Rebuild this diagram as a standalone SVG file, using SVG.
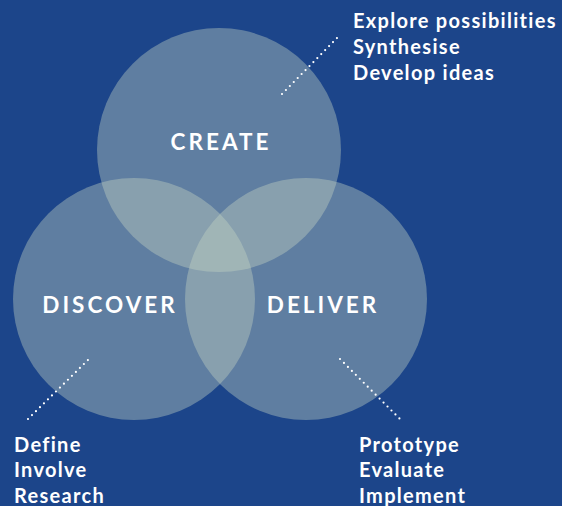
<svg xmlns="http://www.w3.org/2000/svg" width="562" height="506" viewBox="0 0 562 506">
<style>
.c{fill:#c6d5c3;fill-opacity:0.4}
.lab{font-family:Lato,"Open Sans",sans-serif;font-weight:700;font-size:22.5px;fill:#fff;letter-spacing:3px;text-anchor:middle}
.lst{font-family:Lato,"Open Sans",sans-serif;font-weight:700;font-size:20px;fill:#fff;letter-spacing:1.3px}
.dot{stroke:#fff;stroke-width:2.2;stroke-linecap:round;stroke-dasharray:0 5.6;fill:none}
</style>
<rect width="562" height="506" fill="#1c458a"/>
<g id="create"><circle class="c" cx="219" cy="150" r="122"/><text class="lab" x="221" y="150">CREATE</text></g>
<g id="discover"><circle class="c" cx="134" cy="299" r="121"/><text class="lab" x="110" y="313">DISCOVER</text></g>
<g id="deliver"><circle class="c" cx="306" cy="299" r="121"/><text class="lab" x="323" y="313">DELIVER</text></g>
<g id="connectors">
<line class="dot" x1="282" y1="94" x2="337" y2="38"/>
<line class="dot" x1="28" y1="419" x2="89" y2="359"/>
<line class="dot" x1="340" y1="359" x2="400" y2="419"/>
</g>
<g id="create-notes"><text class="lst" x="353" y="28">Explore possibilities</text><text class="lst" x="353" y="54">Synthesise</text><text class="lst" x="353" y="80">Develop ideas</text></g>
<g id="discover-notes"><text class="lst" x="14" y="452">Define</text><text class="lst" x="14" y="477">Involve</text><text class="lst" x="14" y="503">Research</text></g>
<g id="deliver-notes"><text class="lst" x="359" y="452">Prototype</text><text class="lst" x="359" y="477">Evaluate</text><text class="lst" x="359" y="503">Implement</text></g>
</svg>
